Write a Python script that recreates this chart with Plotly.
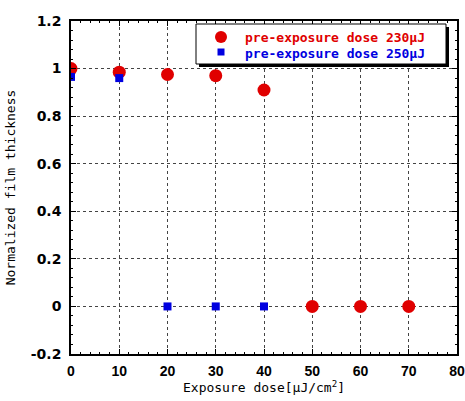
import plotly.graph_objects as go

red_x = [0, 10, 20, 30, 40, 50, 60, 70]
red_y = [1.0, 0.985, 0.975, 0.97, 0.91, 0.0, 0.0, 0.0]
blue_x = [0, 10, 20, 30, 40]
blue_y = [0.965, 0.96, 0.0, 0.0, 0.0]
red_name = "pre-exposure dose 230μJ"
blue_name = "pre-exposure dose 250μJ"
x_ticks = [0, 10, 20, 30, 40, 50, 60, 70, 80]
y_ticks = [-0.2, 0, 0.2, 0.4, 0.6, 0.8, 1.0, 1.2]

RED = "#e00000"
BLUE = "#0000e0"

fig = go.Figure()
fig.add_trace(go.Scatter(x=red_x, y=red_y, mode="markers", name=red_name,
                         marker=dict(symbol="circle", size=13, color=RED)))
fig.add_trace(go.Scatter(x=blue_x, y=blue_y, mode="markers", name=blue_name,
                         marker=dict(symbol="square", size=8, color=BLUE)))

axis_common = dict(showline=True, linecolor="black", linewidth=1.5, mirror="ticks",
                   ticks="inside", ticklen=5, tickcolor="black",
                   showgrid=True, gridcolor="#444444", griddash="dot", gridwidth=1,
                   zeroline=False, automargin=False)

fig.update_xaxes(range=[0, 80], tickvals=x_ticks, ticktext=[str(v) for v in x_ticks],
                 ticklabelstandoff=3,
                 tickfont=dict(family="Liberation Sans", size=14, color="black", weight="bold"),
                 title=dict(text="Exposure dose[μJ/cm<sup>2</sup>]", standoff=4,
                            font=dict(family="DejaVu Sans Mono", size=13, color="black")),
                 minor=dict(dtick=2, ticks="inside", ticklen=2, tickcolor="black", showgrid=False),
                 **axis_common)
fig.update_yaxes(range=[-0.2, 1.2], tickvals=y_ticks,
                 ticktext=["-0.2", "0", "0.2", "0.4", "0.6", "0.8", "1", "1.2"],
                 ticklabelstandoff=5,
                 tickfont=dict(family="DejaVu Sans", size=14, color="black", weight="bold"),
                 title=dict(text="Normalized film thickness", standoff=12,
                            font=dict(family="DejaVu Sans Mono", size=13, color="black")),
                 minor=dict(dtick=0.04, ticks="inside", ticklen=2, tickcolor="black", showgrid=False),
                 **axis_common)

def px(x):
    return (x - 71) / 386

def py(y):
    return (354 - y) / 333

# manual legend: shadow, box, symbols, texts
fig.add_shape(type="rect", xref="paper", yref="paper",
              x0=px(199), x1=px(449), y0=py(67), y1=py(27),
              fillcolor="black", line=dict(width=0), layer="above")
fig.add_shape(type="rect", xref="paper", yref="paper",
              x0=px(196), x1=px(446), y0=py(64), y1=py(24),
              fillcolor="white", line=dict(width=1, color="black"), layer="above")
fig.add_shape(type="circle", xref="paper", yref="paper",
              x0=px(215), x1=px(227), y0=py(43), y1=py(31),
              fillcolor=RED, line=dict(width=0), layer="above")
fig.add_shape(type="rect", xref="paper", yref="paper",
              x0=px(217.5), x1=px(224.5), y0=py(55.5), y1=py(48.5),
              fillcolor=BLUE, line=dict(width=0), layer="above")
fig.add_annotation(xref="paper", yref="paper", x=px(243), y=py(37.5), xanchor="left",
                   yanchor="middle", text=red_name, showarrow=False,
                   font=dict(family="DejaVu Sans Mono", size=13, weight="bold", color=RED))
fig.add_annotation(xref="paper", yref="paper", x=px(243), y=py(53), xanchor="left",
                   yanchor="middle", text=blue_name, showarrow=False,
                   font=dict(family="DejaVu Sans Mono", size=13, weight="bold", color=BLUE))

fig.update_layout(
    width=465, height=401,
    margin=dict(l=71, r=8, t=21, b=47),
    plot_bgcolor="white", paper_bgcolor="white",
    showlegend=False,
)

fig.write_html("out.html")
